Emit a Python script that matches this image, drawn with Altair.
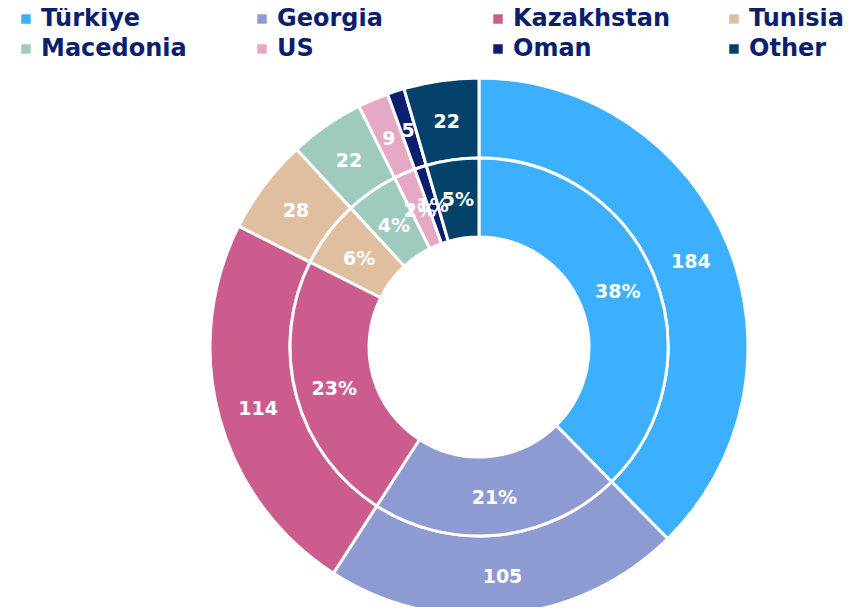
import altair as alt
import pandas as pd

countries = ["Türkiye", "Georgia", "Kazakhstan", "Tunisia", "Macedonia", "US", "Oman", "Other"]
values = [184, 105, 114, 28, 22, 9, 5, 22]
pct_labels = ["38%", "21%", "23%", "6%", "4%", "2%", "1%", "5%"]
colors = ["#3CB0FF", "#8E9BD2", "#CC5C8E", "#E0BFA0", "#9FCBBE", "#E5A8C5", "#0B1F6E", "#05426B"]

df = pd.DataFrame({
    "country": countries,
    "value": values,
    "pct": pct_labels,
    "idx": list(range(len(countries))),
})
df["value_label"] = df["value"].astype(str)

FONT = "DejaVu Sans"

base = alt.Chart(df).encode(
    theta=alt.Theta("value:Q", stack=True),
    order=alt.Order("idx:Q", sort="ascending"),
)

color_enc = alt.Color(
    "country:N",
    scale=alt.Scale(domain=countries, range=colors),
    legend=alt.Legend(
        orient="none",
        legendX=-185,
        legendY=-80,
        columns=4,
        direction="horizontal",
        title=None,
        symbolType="square",
        symbolSize=90,
        symbolStrokeWidth=0,
        labelFont=FONT,
        labelFontSize=24,
        labelFontWeight="bold",
        labelColor="#0B1F6E",
        labelOffset=3,
        labelLimit=400,
        columnPadding=51,
        rowPadding=6,
        gridAlign="all",
        padding=0,
    ),
)

outer = base.mark_arc(innerRadius=189, outerRadius=269, stroke="white", strokeWidth=3).encode(color=color_enc)
inner = base.mark_arc(innerRadius=110, outerRadius=189, stroke="white", strokeWidth=3).encode(color=color_enc)

outer_text = base.mark_text(
    radius=229, font=FONT, fontSize=19, fontWeight="bold", color="white", dy=2
).encode(text="value_label:N", detail="country:N")

inner_text = base.mark_text(
    radius=150, font=FONT, fontSize=19, fontWeight="bold", color="white", dy=2
).encode(text="pct:N", detail="country:N")

chart = alt.layer(outer, inner, outer_text, inner_text).properties(
    width=560,
    height=520,
    autosize=alt.AutoSizeParams(type="none"),
    padding={"left": 191, "top": 79, "right": 90, "bottom": 0},
).configure_view(stroke=None)

chart.save("out.html", embed_options={"renderer": "svg", "actions": False})
